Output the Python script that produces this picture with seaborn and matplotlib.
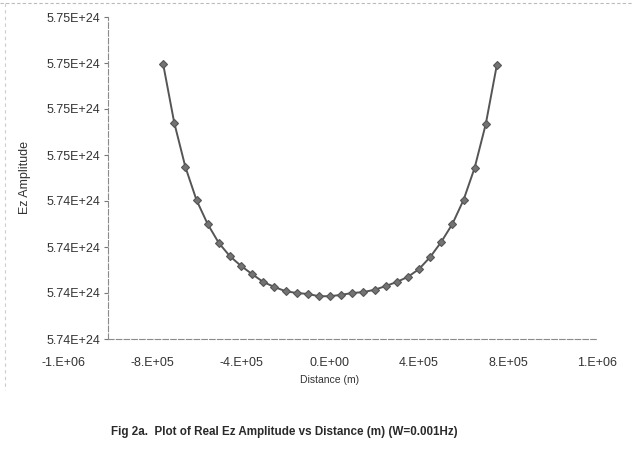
import numpy as np
import pandas as pd
import matplotlib
matplotlib.use('Agg')
import matplotlib.pyplot as plt
import matplotlib.ticker as mticker
from matplotlib.lines import Line2D
import seaborn as sns

# Distance (m) and real Ez amplitude
distance = [-750000, -700000, -650000, -600000, -550000, -500000, -450000, -400000,
            -350000, -300000, -250000, -200000, -150000, -100000, -50000, 0,
            50000, 100000, 150000, 200000, 250000, 300000, 350000, 400000,
            450000, 500000, 550000, 600000, 650000, 700000, 750000]
ez_amp = [5.74718e24, 5.74590e24, 5.74494e24, 5.74422e24, 5.74370e24, 5.74329e24,
          5.74300e24, 5.74279e24, 5.74261e24, 5.74244e24, 5.74233e24, 5.74224e24,
          5.74220e24, 5.74218e24, 5.74213e24, 5.74213e24, 5.74216e24, 5.74220e24,
          5.74222e24, 5.74227e24, 5.74235e24, 5.74244e24, 5.74255e24, 5.74272e24,
          5.74298e24, 5.74331e24, 5.74370e24, 5.74422e24, 5.74492e24, 5.74587e24,
          5.74716e24]

x_ticks = [-1.2e6, -8e5, -4e5, 0, 4e5, 8e5, 1.2e6]
y_ticks = [5.7412e24, 5.7422e24, 5.7432e24, 5.7442e24,
           5.7452e24, 5.7462e24, 5.7472e24, 5.7482e24]

caption = 'Fig 2a.  Plot of Real Ez Amplitude vs Distance (m) (W=0.001Hz)'

df = pd.DataFrame({'distance': distance, 'amp': ez_amp})

sns.set_style('white')
plt.rcParams['font.family'] = ['Liberation Sans', 'DejaVu Sans']
text_col = '#333333'

fig = plt.figure(figsize=(6.32, 4.54), dpi=100, facecolor='white')
ax = fig.add_axes([63 / 632, 1 - 339 / 454, 534 / 632, 322 / 454])

sns.lineplot(ax=ax, data=df, x='distance', y='amp', color='#555555', linewidth=1.4,
             marker='D', markersize=4.5, markerfacecolor='#737373',
             markeredgecolor='#555555', markeredgewidth=0.8)

ax.set_xlim(-1.2e6, 1.2e6)
ax.set_ylim(y_ticks[0], y_ticks[-1])
ax.set_xticks(x_ticks)
ax.set_yticks(y_ticks)
ax.xaxis.set_major_formatter(mticker.FuncFormatter(lambda v, p: f'{v:.0E}'.replace('E', '.E')))
ax.yaxis.set_major_formatter(mticker.FuncFormatter(lambda v, p: f'{v:.2E}'))
ax.tick_params(axis='x', length=0, pad=13, labelsize=9, labelcolor=text_col)
ax.tick_params(axis='y', left=True, length=3, width=0.8, color='#777777', pad=2,
               labelsize=9, labelcolor=text_col)

for side in ['top', 'right']:
    ax.spines[side].set_visible(False)
ax.spines['left'].set_position(('data', -1e6))
ax.spines['bottom'].set_bounds(-1e6, 1.2e6)
for side in ['left', 'bottom']:
    ax.spines[side].set_color('#8a8a8a')
    ax.spines[side].set_linewidth(0.8)
    ax.spines[side].set_linestyle((0, (5, 2)))

ax.set_xlabel('')
ax.set_ylabel('')
fig.text(25 / 632, 1 - 178 / 454, 'Ez Amplitude', rotation=90, ha='center', va='center',
         fontsize=9, color=text_col)
fig.text(330 / 632, 1 - 380 / 454, 'Distance (m)', ha='center', va='center',
         fontsize=7.5, color=text_col)
fig.text(284 / 632, 1 - 432 / 454, caption, ha='center', va='center',
         fontsize=8.4, fontweight='bold', color='#2a2a2a')

# faint dotted frame of the scanned chart area
fig.add_artist(Line2D([0, 1], [1 - 3 / 454, 1 - 3 / 454], transform=fig.transFigure,
                      color='#bbbbbb', linewidth=0.8, linestyle=(0, (3, 2))))
fig.add_artist(Line2D([5 / 632, 5 / 632], [1 - 3 / 454, 1 - 390 / 454], transform=fig.transFigure,
                      color='#cccccc', linewidth=0.8, linestyle=(0, (3, 3))))

fig.savefig('out.png', dpi=100, facecolor='white')
